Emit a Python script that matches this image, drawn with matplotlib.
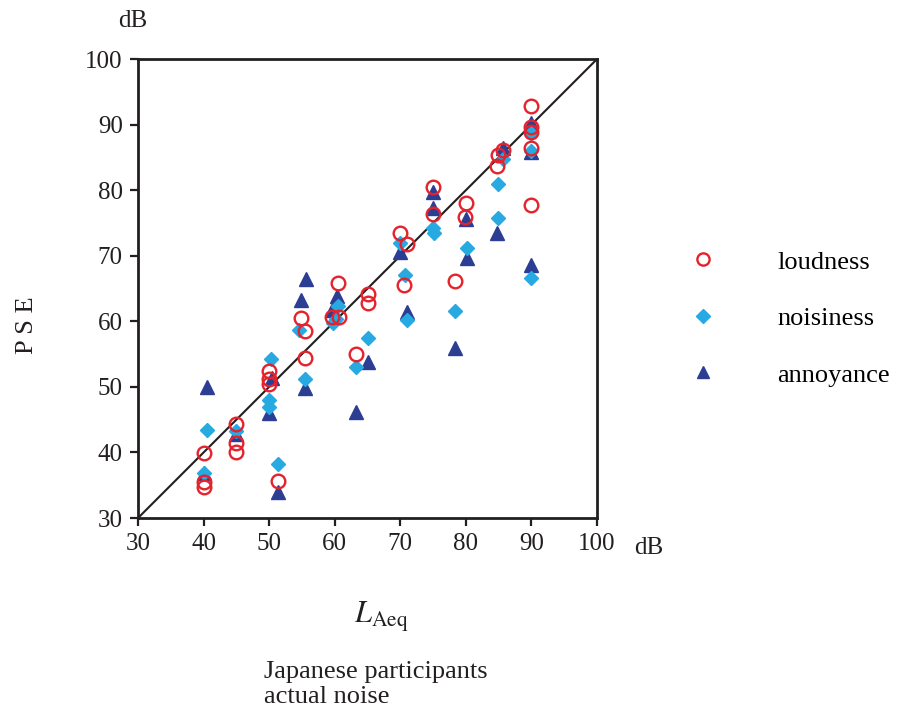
import matplotlib
matplotlib.use("Agg")
import matplotlib.pyplot as plt

plt.rcParams['font.family'] = ['Liberation Serif', 'DejaVu Serif']
plt.rcParams['mathtext.fontset'] = 'stix'

# data (LAeq, PSE) in dB
loud_x = [40, 40, 40, 45, 45, 45, 50, 50, 50, 51.4, 54.8, 55.5, 55.5,
          60.5, 59.6, 60.7, 65, 65, 63.2, 70, 71, 70.6, 75, 75, 80, 79.8,
          78.3, 85.7, 84.9, 84.8, 90, 90, 90, 90, 90]
loud_y = [39.9, 35.5, 34.7, 44.4, 41.4, 40.0, 52.5, 51.2, 50.5, 35.7, 60.5,
          58.5, 54.4, 65.8, 60.6, 60.6, 64.2, 62.8, 55.0, 73.5, 71.8, 65.5,
          80.5, 76.4, 78.1, 75.9, 66.2, 86.2, 85.4, 83.7, 92.8, 89.7, 88.9,
          86.5, 77.7]

noise_x = [40.5, 40, 45, 50.3, 50, 50, 51.3, 54.6, 55.5, 59.7, 60.5, 60.2,
           65, 63.2, 70, 70.7, 71, 75, 75.2, 78.3, 80.2, 84.9, 84.9, 85.6,
           90, 90, 90]
noise_y = [43.4, 36.8, 43.2, 54.3, 48.0, 47.0, 38.2, 58.7, 51.2, 59.7, 62.3,
           60.3, 57.4, 53.1, 72.0, 67.0, 60.2, 74.2, 73.5, 61.6, 71.2, 81.0,
           75.8, 84.8, 66.6, 88.7, 86.0]

annoy_x = [40.5, 40, 45, 50, 50.5, 51.4, 55.6, 54.8, 55.5, 60.4, 59.6, 65.1,
           63.2, 71, 70, 75, 75, 78.3, 80, 80.1, 84.7, 85.6, 90, 90, 90]
annoy_y = [50.0, 36.9, 42.8, 46.0, 51.3, 33.9, 66.4, 63.3, 49.9, 63.8, 61.7,
           53.8, 46.2, 61.4, 70.6, 79.7, 77.3, 56.0, 75.6, 69.6, 73.5, 86.4,
           68.6, 85.9, 90.3]

ticks = [30, 40, 50, 60, 70, 80, 90, 100]

red = '#e5222b'
light = '#27a9e1'
dark = '#2c3e93'
ink = '#231f20'

fig = plt.figure(figsize=(8.99, 7.16), dpi=100)
ax = fig.add_axes([0.1535, 0.2765, 0.5106, 0.641])

ax.plot([30, 100], [30, 100], color=ink, lw=1.5, zorder=1)

ax.plot(annoy_x, annoy_y, ls='none', marker='^', ms=10, color=dark,
        label='annoyance', zorder=2, clip_on=False)
ax.plot(noise_x, noise_y, ls='none', marker='D', ms=7.5, color=light,
        label='noisiness', zorder=3, clip_on=False)
ax.plot(loud_x, loud_y, ls='none', marker='o', ms=9.8, mfc='none', mec=red,
        mew=1.7, label='loudness', zorder=4, clip_on=False)

ax.set_xlim(30, 100)
ax.set_ylim(30, 100)
ax.set_xticks(ticks)
ax.set_yticks(ticks)
ax.tick_params(direction='out', length=6, width=1.6, labelsize=18, pad=5,
               colors=ink)
for s in ax.spines.values():
    s.set_linewidth(2.0)
    s.set_color(ink)

handles, labels = ax.get_legend_handles_labels()
leg = ax.legend(handles[::-1], labels[::-1], loc='center left',
                bbox_to_anchor=(1.151, 0.435), frameon=False, fontsize=19,
                handletextpad=2.3, labelspacing=1.25, handlelength=1,
                markerscale=0.9)

fig.text(0.148, 0.970, 'dB', fontsize=18, ha='center', va='center', color=ink)
fig.text(0.722, 0.234, 'dB', fontsize=18, ha='center', va='center', color=ink)
fig.text(0.030, 0.546, 'P S E', fontsize=19, rotation=90, ha='center',
         va='center', color=ink)
fig.text(0.424, 0.138, r'$L_{\mathrm{Aeq}}$', fontsize=22, ha='center',
         va='center', color=ink)
fig.text(0.294, 0.044, 'Japanese participants\nactual noise', fontsize=19,
         ha='left', va='center', linespacing=1.15, color=ink)

fig.savefig('out.png', dpi=100)
